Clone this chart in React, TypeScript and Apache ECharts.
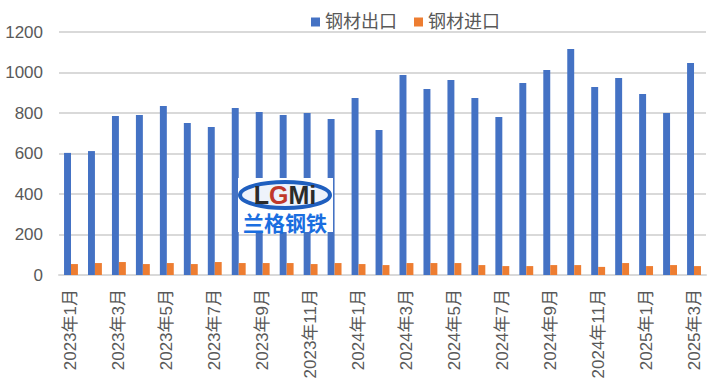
import React, { useEffect, useRef } from "react";
import * as echarts from "echarts";

const categories = [
  "2023年1月", "2023年2月", "2023年3月", "2023年4月", "2023年5月", "2023年6月",
  "2023年7月", "2023年8月", "2023年9月", "2023年10月", "2023年11月", "2023年12月",
  "2024年1月", "2024年2月", "2024年3月", "2024年4月", "2024年5月", "2024年6月",
  "2024年7月", "2024年8月", "2024年9月", "2024年10月", "2024年11月", "2024年12月",
  "2025年1月", "2025年2月", "2025年3月",
];
const exportValues = [
  603, 612, 785, 790, 835, 751, 731, 825, 805, 790, 800, 770,
  874, 716, 988, 918, 963, 874, 780, 948, 1012, 1116, 928, 973,
  894, 800, 1047,
];
const importValues = [
  54, 59, 64, 54, 59, 54, 64, 59, 59, 59, 54, 59,
  54, 49, 59, 59, 59, 49, 44, 44, 49, 49, 40, 59,
  44, 49, 44,
];
const seriesNames = ["钢材出口", "钢材进口"];

const FONT = "'Liberation Sans', 'Noto Sans CJK SC', sans-serif";

export default function App() {
  const ref = useRef<HTMLDivElement>(null);
  useEffect(() => {
    if (!ref.current) return;
    const chart = echarts.init(ref.current, null, { renderer: "svg" });
    const LX = 238;
    const LY = 178;
    chart.setOption({
      animation: false,
      backgroundColor: "#ffffff",
      textStyle: { fontFamily: FONT },
      legend: {
        top: 8,
        left: 306,
        itemWidth: 9,
        itemHeight: 9,
        itemGap: 17,
        icon: "rect",
        textStyle: { color: "#595959", fontSize: 18, fontFamily: FONT },
        data: seriesNames,
      },
      grid: { left: 59, right: 14, top: 32, bottom: 112, containLabel: false },
      xAxis: {
        type: "category",
        data: categories,
        axisLine: { lineStyle: { color: "#d9d9d9", width: 2 } },
        axisTick: { show: false },
        axisLabel: {
          rotate: 90,
          interval: 1,
          color: "#595959",
          fontSize: 17,
          margin: 14,
          fontFamily: FONT,
        },
      },
      yAxis: {
        type: "value",
        min: 0,
        max: 1200,
        interval: 200,
        axisLine: { show: false },
        axisTick: { show: false },
        splitLine: { lineStyle: { color: "#d9d9d9", width: 2 } },
        axisLabel: {
          color: "#595959",
          fontSize: 17,
          margin: 16,
          fontFamily: FONT,
          formatter: (v: number) => String(v),
        },
      },
      series: [
        {
          name: seriesNames[0],
          type: "bar",
          data: exportValues,
          itemStyle: { color: "#4472C4" },
          barGap: "0%",
          barCategoryGap: "42%",
        },
        {
          name: seriesNames[1],
          type: "bar",
          data: importValues,
          itemStyle: { color: "#ED7D31" },
          barGap: "0%",
          barCategoryGap: "42%",
        },
      ],
      graphic: [
        {
          type: "rect",
          z: 100,
          shape: { x: LX, y: LY, width: 95, height: 54 },
          style: { fill: "#ffffff" },
        },
        {
          type: "ellipse",
          z: 101,
          shape: { cx: LX + 47, cy: LY + 17, rx: 45, ry: 13 },
          style: { fill: "#eef3fb", stroke: "#1f5fbf", lineWidth: 4 },
        },
        {
          type: "text",
          z: 102,
          x: LX + 47,
          y: LY + 17,
          style: {
            text: "{a|L}{b|G}{a|M}{a|i}",
            align: "center",
            verticalAlign: "middle",
            rich: {
              a: { fontSize: 25, fontWeight: "bold", fill: "#2b2b2b", fontFamily: "Liberation Sans" },
              b: { fontSize: 25, fontWeight: "bold", fill: "#c0392b", fontFamily: "Liberation Sans" },
            },
          },
        },
        {
          type: "text",
          z: 102,
          x: LX + 47,
          y: LY + 44,
          style: {
            text: "兰格钢铁",
            align: "center",
            verticalAlign: "middle",
            fontSize: 21,
            fontWeight: "bold",
            fill: "#1a6ee0",
            fontFamily: "'Noto Sans CJK SC'",
          },
        },
      ],
    });
    return () => chart.dispose();
  }, []);
  return <div ref={ref} style={{ width: 720, height: 387, position: "absolute", left: 0, top: 0 }} />;
}
